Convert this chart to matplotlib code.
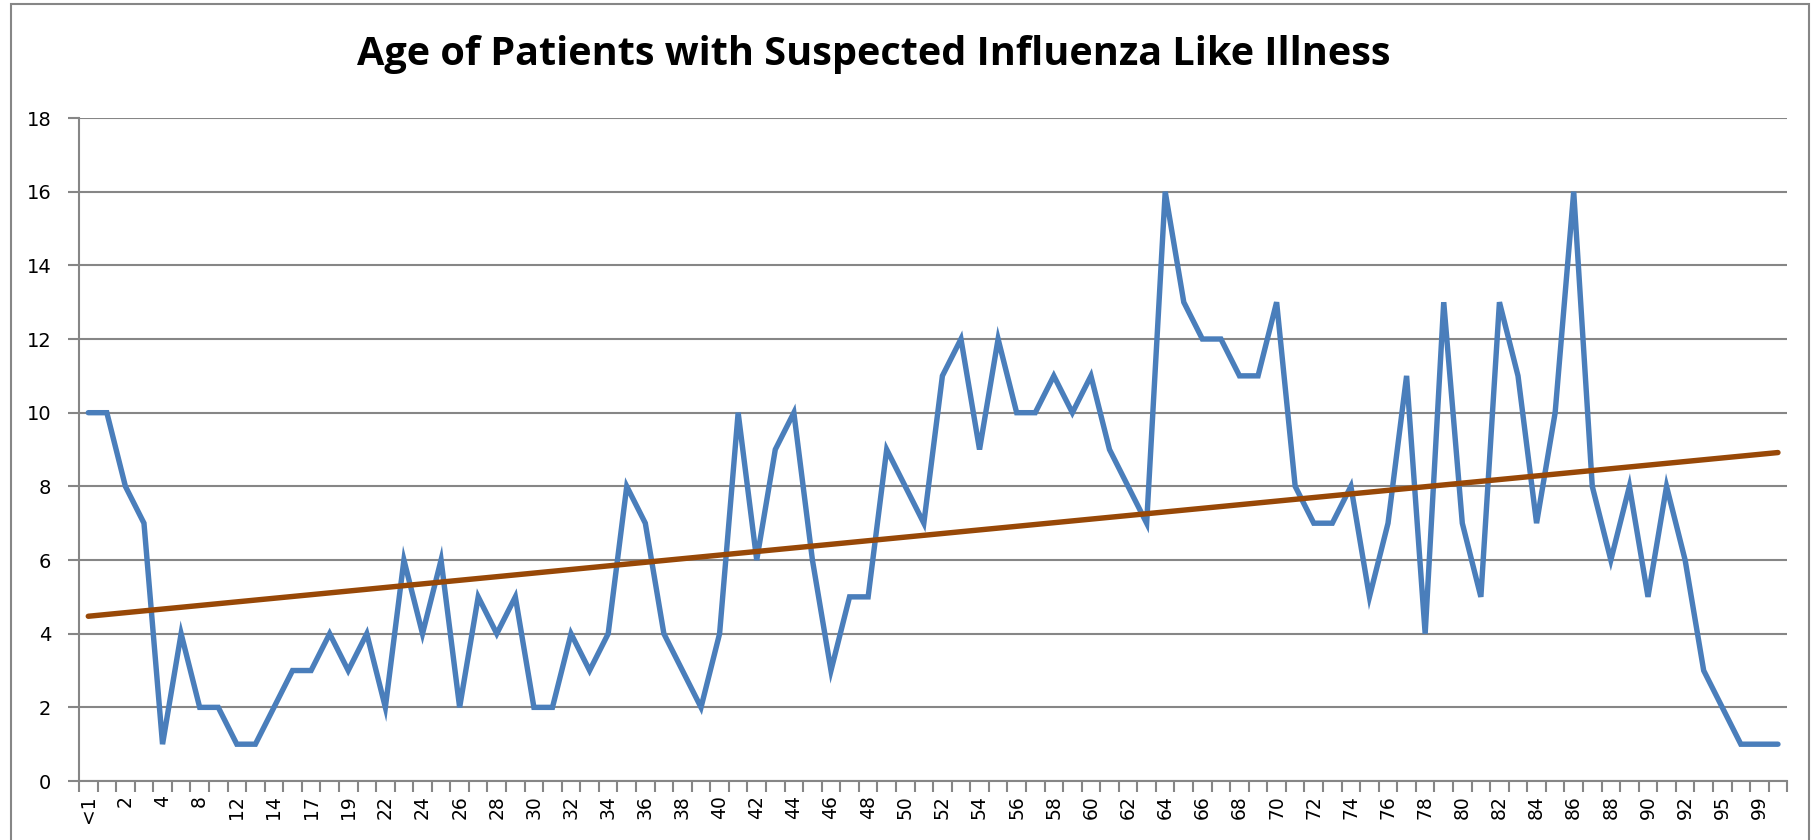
import numpy as np
import matplotlib
matplotlib.use("Agg")
import matplotlib.pyplot as plt
from matplotlib.patches import Rectangle

ages = ["<1", "1", "2", "3", "4", "6", "8", "10", "12", "13", "14", "16", "17", "18", "19", "20",
        "22", "23", "24", "25", "26", "27", "28", "29", "30", "31", "32", "33", "34", "35", "36", "37",
        "38", "39", "40", "41", "42", "43", "44", "45", "46", "47", "48", "49", "50", "51", "52", "53",
        "54", "55", "56", "57", "58", "59", "60", "61", "62", "63", "64", "65", "66", "67", "68", "69",
        "70", "71", "72", "73", "74", "75", "76", "77", "78", "79", "80", "81", "82", "83", "84", "85",
        "86", "87", "88", "89", "90", "91", "92", "93", "95", "97", "99", "100"]
patients = [10, 10, 8, 7, 1, 4, 2, 2, 1, 1, 2, 3, 3, 4, 3, 4,
            2, 6, 4, 6, 2, 5, 4, 5, 2, 2, 4, 3, 4, 8, 7, 4,
            3, 2, 4, 10, 6, 9, 10, 6, 3, 5, 5, 9, 8, 7, 11, 12,
            9, 12, 10, 10, 11, 10, 11, 9, 8, 7, 16, 13, 12, 12, 11, 11,
            13, 8, 7, 7, 8, 5, 7, 11, 4, 13, 7, 5, 13, 11, 7, 10,
            16, 8, 6, 8, 5, 8, 6, 3, 2, 1, 1, 1]
title = "Age of Patients with Suspected Influenza Like Illness"
yticks = [0, 2, 4, 6, 8, 10, 12, 14, 16, 18]

blue = "#4A7EBB"
brown = "#984807"
grid_c = "#868686"

fig = plt.figure(figsize=(18.2, 8.4), dpi=100)
ax = fig.add_axes([0.0434, 0.0702, 0.982 - 0.0434, 0.8595 - 0.0702])

n = len(patients)
x = np.arange(n) + 0.5
y = np.array(patients, dtype=float)
ax.plot(x, y, color=blue, lw=3.9, solid_joinstyle="miter", solid_capstyle="round", zorder=3)

# linear trendline (Excel-style)
coef = np.polyfit(np.arange(1, n + 1), y, 1)
xt = np.array([1, n])
ax.plot(xt - 0.5, np.polyval(coef, xt), color=brown, lw=3.9, solid_capstyle="round", zorder=4)

ax.set_xlim(0, n)
ax.set_ylim(0, 18)
ax.set_yticks(yticks)
ax.set_yticklabels([str(v) for v in yticks], fontsize=14, family="DejaVu Sans")
ax.yaxis.grid(True, color=grid_c, lw=1.5)
ax.set_axisbelow(True)

ax.set_xticks(np.arange(0, n + 1))
ax.set_xticklabels([])
ax.set_xticks(x[::2], minor=True)
ax.set_xticklabels(ages[::2], minor=True, rotation=90, fontsize=13.5, family="DejaVu Sans")
ax.tick_params(axis="x", which="major", length=8, width=1.5, color=grid_c, direction="out")
ax.tick_params(axis="x", which="minor", length=0, pad=10)
ax.tick_params(axis="y", length=8, width=1.5, color=grid_c, pad=12)

for s in ["top", "right"]:
    ax.spines[s].set_visible(False)
for s in ["left", "bottom"]:
    ax.spines[s].set_color(grid_c)
    ax.spines[s].set_linewidth(1.5)

fig.text(0.48, 0.935, title, ha="center", va="center",
         fontsize=28.5, fontweight="bold", family="Open Sans")

fig.patches.append(Rectangle((0.006, -0.01), 0.988, 1.005, transform=fig.transFigure,
                             fill=False, edgecolor=grid_c, lw=1.5))

fig.savefig("out.png", dpi=100)
